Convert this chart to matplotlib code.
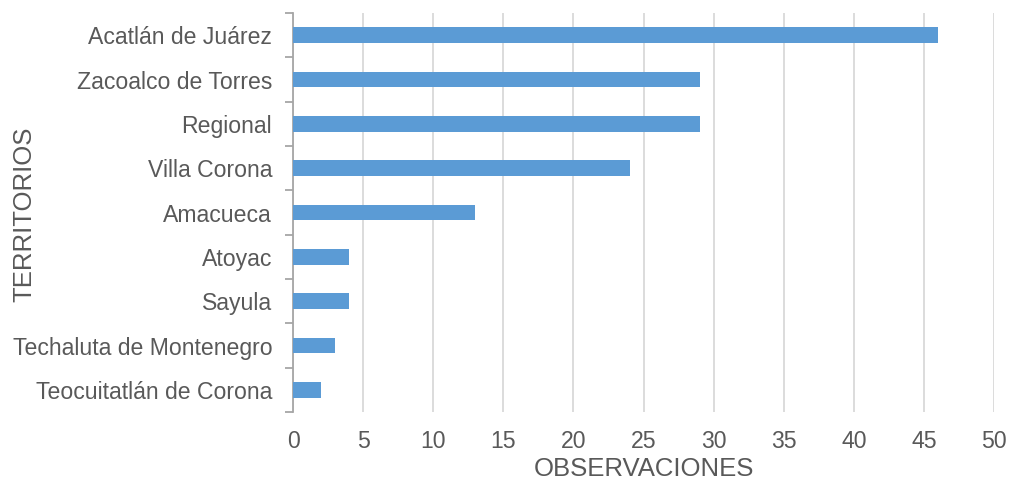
import matplotlib
matplotlib.use("Agg")
import matplotlib.pyplot as plt
import numpy as np

categories = ["Acatlán de Juárez", "Zacoalco de Torres", "Regional", "Villa Corona",
              "Amacueca", "Atoyac", "Sayula", "Techaluta de Montenegro",
              "Teocuitatlán de Corona"]
values = [46, 29, 29, 24, 13, 4, 4, 3, 2]
xticks = [0, 5, 10, 15, 20, 25, 30, 35, 40, 45, 50]

plt.rcParams['font.family'] = ['Liberation Sans', 'DejaVu Sans']
txt = '#595959'

fig = plt.figure(figsize=(10.09, 4.82), dpi=100)
ax = fig.add_axes([0.2904, 0.145, 0.6948, 0.828])

y = np.arange(len(categories))
ax.barh(y, values, height=0.355, color='#5B9BD5', zorder=3)
ax.set_ylim(len(categories) - 0.5, -0.5)
ax.set_xlim(0, 50)
ax.set_xticks(xticks)
ax.set_yticks(y)
ax.set_yticklabels(categories)
ax.set_yticks(np.arange(-0.5, len(categories), 1), minor=True)
ax.tick_params(axis='y', which='major', length=0, pad=15, labelsize=16.6, labelcolor=txt)
ax.tick_params(axis='y', which='minor', length=6, color='#A6A6A6', width=1.3)
ax.tick_params(axis='x', length=0, pad=13, labelsize=16.6, labelcolor=txt)
ax.grid(axis='x', color='#D9D9D9', linewidth=1.3, zorder=0)
for s in ['top', 'right', 'bottom']:
    ax.spines[s].set_visible(False)
ax.spines['left'].set_color('#A6A6A6')
ax.spines['left'].set_linewidth(1.3)
ax.set_xlabel('OBSERVACIONES', fontsize=18.5, color=txt, labelpad=3)
fig.text(24 / 1009, 1 - 214 / 482, 'TERRITORIOS', rotation=90, ha='center', va='center',
         fontsize=18.5, color=txt)

fig.savefig('out.png', dpi=100)
